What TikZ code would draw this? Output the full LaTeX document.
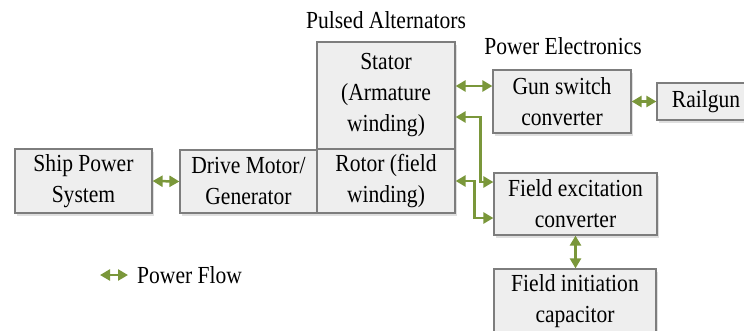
\documentclass[tikz,border=0pt]{standalone}
\usepackage{fontspec}
\setmainfont[FakeStretch=0.88]{Liberation Serif}
\usetikzlibrary{arrows.meta,shadows,calc}
\definecolor{pfgreen}{RGB}{122,151,58}
\definecolor{boxfill}{RGB}{238,238,238}
\definecolor{boxdraw}{RGB}{125,125,125}
\begin{document}
\begin{tikzpicture}[x=1pt,y=-1pt,
  blk/.style={draw=boxdraw,line width=1.2pt,fill=boxfill,align=center,inner sep=0pt,
    font=\fontsize{24.5}{31}\selectfont,
    drop shadow={shadow xshift=1.5pt,shadow yshift=-2.5pt,opacity=0.25}},
  pf/.style={draw=pfgreen,line width=2.5pt,
    {Triangle[length=10pt,width=11pt]}-{Triangle[length=10pt,width=11pt]}},
  lbl/.style={font=\fontsize{24.5}{28}\selectfont,inner sep=0pt}]
\useasboundingbox (0,0) rectangle (744,330);
\clip (0,0) rectangle (744,330);
% blocks
\node[blk,minimum width=137pt,minimum height=64pt] (ship) at (83.5,181) {Ship Power\\System};
\node[blk,minimum width=137pt,minimum height=63pt] (drive) at (248.5,181.5) {Drive Motor/\\Generator};
\node[blk,minimum width=138pt,minimum height=107pt] (stator) at (386,95.5) {Stator\\(Armature\\winding)};
\node[blk,minimum width=138pt,minimum height=64pt] (rotor) at (386,181) {Rotor (field\\winding)};
\node[blk,minimum width=138pt,minimum height=63pt] (gun) at (562,101.5) {Gun switch\\converter};
\node[blk,minimum width=98pt,minimum height=37pt] (rail) at (706,101.5) {Railgun};
\node[blk,minimum width=163pt,minimum height=62pt] (fexc) at (575.5,204) {Field excitation\\converter};
\node[blk,minimum width=162pt,minimum height=64pt] (finit) at (575,301) {Field initiation\\capacitor};
% labels
\node[lbl] (pa) at (386,20) {Pulsed Alternators};
\node[lbl] (pe) at (563,46) {Power Electronics};
% connectors
\draw[pf] (ship.east) -- (drive.west);
\coordinate (s1) at ([yshift=9.5pt]stator.east);
\draw[pf] (s1) -- (s1 -| gun.west);
\draw[pf] (gun.east) -- (rail.west);
\coordinate (s2) at ([yshift=-21.5pt]stator.east);
\coordinate (f1) at ([yshift=22pt]fexc.west);
\draw[pf] (s2) -- ++(25,0) |- (f1);
\coordinate (f2) at ([yshift=-14pt]fexc.west);
\draw[pf] (rotor.east) -- ++(19,0) |- (f2);
\draw[pf] (fexc.south) -- (fexc.south |- finit.north);
% legend
\node[lbl,anchor=west] (leg) at (137,275) {Power Flow};
\coordinate (l1) at (100,275);
\draw[pf] (l1) -- ++(28,0);
\end{tikzpicture}
\end{document}
